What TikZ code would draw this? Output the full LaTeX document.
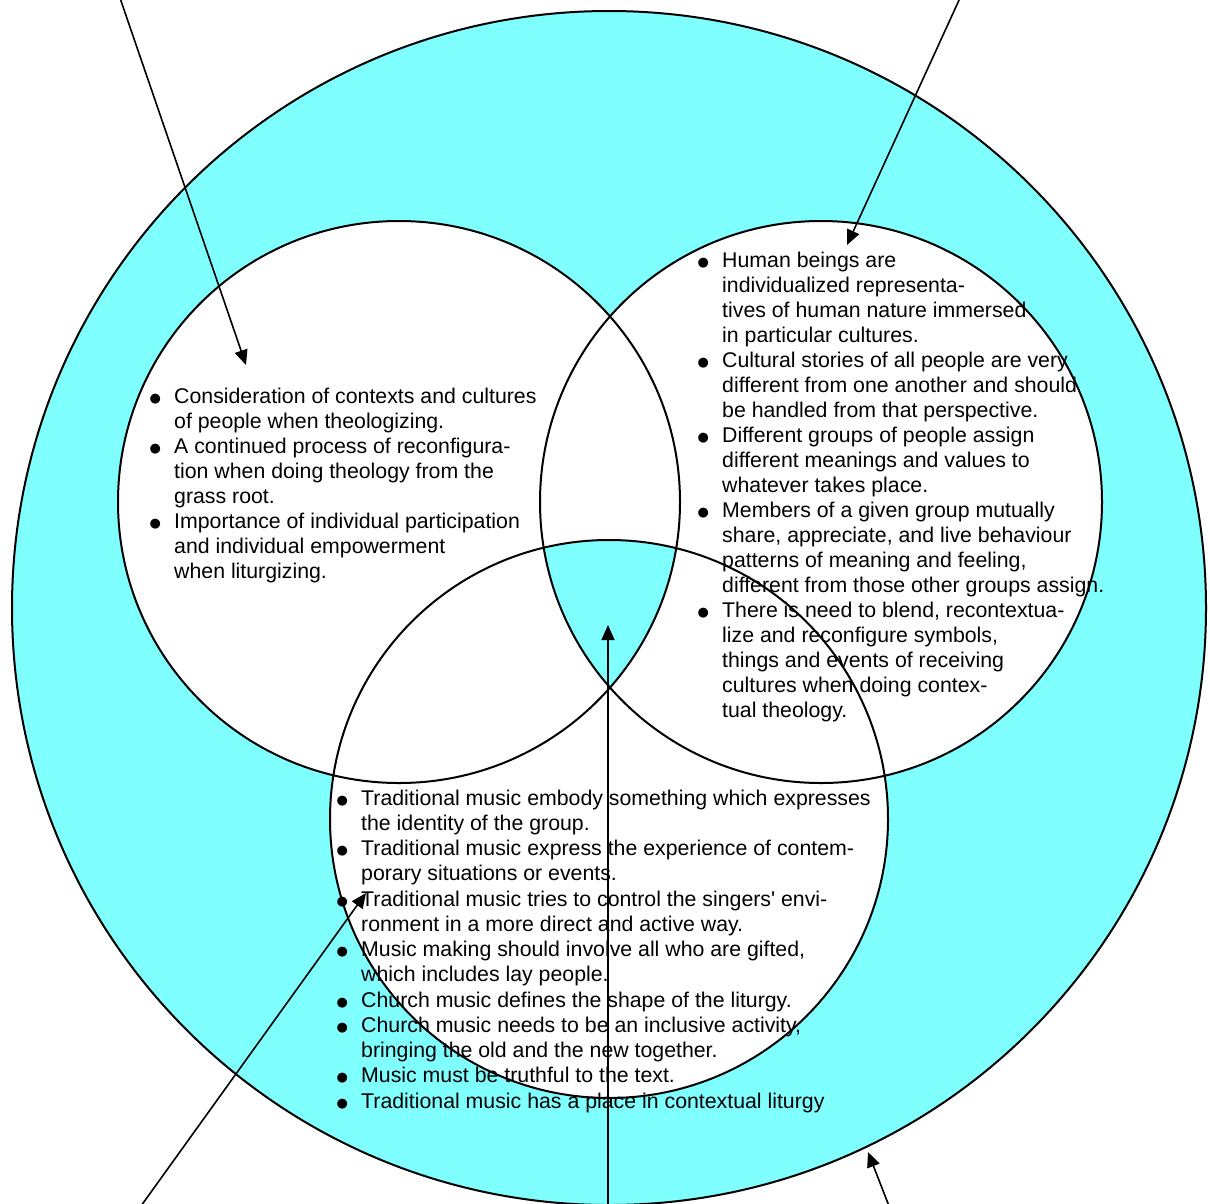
\documentclass[tikz,border=0pt]{standalone}
\usepackage{fontspec}
\usetikzlibrary{arrows.meta}
\newfontfamily\arialfont{Liberation Sans}
\newfontfamily\dotfont{DejaVu Sans}
\definecolor{ringcyan}{RGB}{128,255,255}
% bullet column of the lists
\newcommand\bulletmark{\makebox[25pt][l]{\hspace{0.5pt}\raisebox{1pt}{\dotfont\fontsize{13}{13}\selectfont ●}}}

\begin{document}
\begin{tikzpicture}[x=1pt,y=-1pt,
  outline/.style={line width=2pt},
  pointer/.style={line width=1.6pt,-{Triangle[length=15pt,width=13pt]}},
  listtext/.style={anchor=base west,inner sep=0pt,
    font=\arialfont\fontsize{21.3}{25}\selectfont}]
\useasboundingbox (0,0) rectangle (1210,1203);

% circle centres
\coordinate (cO) at (609,608);
\coordinate (cL) at (399,502);
\coordinate (cR) at (821,502);
\coordinate (cB) at (609,819);

% outer ring and the three inner circles
\fill[ringcyan] (cO) circle[radius=597pt];
\fill[white] (cL) circle[radius=281pt] (cR) circle[radius=281pt] (cB) circle[radius=279pt];
% common part of all three circles
\begin{scope}
  \clip (cL) circle[radius=281pt];
  \clip (cR) circle[radius=281pt];
  \fill[ringcyan] (cB) circle[radius=279pt];
\end{scope}

% lists
\node[listtext] (leftlist) at (149,403) {\begin{tabular}[t]{@{}l@{}l@{}}
\bulletmark & Consideration of contexts and cultures\\
 & of people when theologizing.\\
\bulletmark & A continued process of reconfigura-\\
 & tion when doing theology from the\\
 & grass root.\\
\bulletmark & Importance of individual participation\\
 & and individual empowerment\\
 & when liturgizing.
\end{tabular}};

\node[listtext] (rightlist) at (697,267) {\begin{tabular}[t]{@{}l@{}l@{}}
\bulletmark & Human beings are\\
 & individualized representa-\\
 & tives of human nature immersed\\
 & in particular cultures.\\
\bulletmark & Cultural stories of all people are very\\
 & different from one another and should\\
 & be handled from that perspective.\\
\bulletmark & Different groups of people assign\\
 & different meanings and values to\\
 & whatever takes place.\\
\bulletmark & Members of a given group mutually\\
 & share, appreciate, and live behaviour\\
 & patterns of meaning and feeling,\\
 & different from those other groups assign.\\
\bulletmark & There is need to blend, recontextua-\\
 & lize and reconfigure symbols,\\
 & things and events of receiving\\
 & cultures when doing contex-\\
 & tual theology.
\end{tabular}};

\node[listtext,font=\arialfont\fontsize{21.3}{25.25}\selectfont] (bottomlist) at (336,805) {\begin{tabular}[t]{@{}l@{}l@{}}
\bulletmark & Traditional music embody something which expresses\\
 & the identity of the group.\\
\bulletmark & Traditional music express the experience of contem-\\
 & porary situations or events.\\
\bulletmark & Traditional music tries to control the singers' envi-\\
 & ronment in a more direct and active way.\\
\bulletmark & Music making should involve all who are gifted,\\
 & which includes lay people.\\
\bulletmark & Church music defines the shape of the liturgy.\\
\bulletmark & Church music needs to be an inclusive activity,\\
 & bringing the old and the new together.\\
\bulletmark & Music must be truthful to the text.\\
\bulletmark & Traditional music has a place in contextual liturgy
\end{tabular}};

% outlines
\draw[outline] (cO) circle[radius=597pt];
\draw[outline] (cL) circle[radius=281pt];
\draw[outline] (cR) circle[radius=281pt];
\draw[outline] (cB) circle[radius=279pt];

% pointers
\coordinate (t1) at (120,-2);   \coordinate (h1) at (246,365);
\coordinate (t2) at (960,-2);   \coordinate (h2) at (847,245);
\coordinate (t3) at (608,1206); \coordinate (h3) at (608,625);
\coordinate (t4) at (141,1206); \coordinate (h4) at (366,893);
\coordinate (t5) at (889,1206); \coordinate (h5) at (868,1152);
\draw[pointer] (t1) -- (h1);
\draw[pointer] (t2) -- (h2);
\draw[pointer] (t3) -- (h3);
\draw[pointer] (t4) -- (h4);
\draw[pointer] (t5) -- (h5);
\end{tikzpicture}
\end{document}
